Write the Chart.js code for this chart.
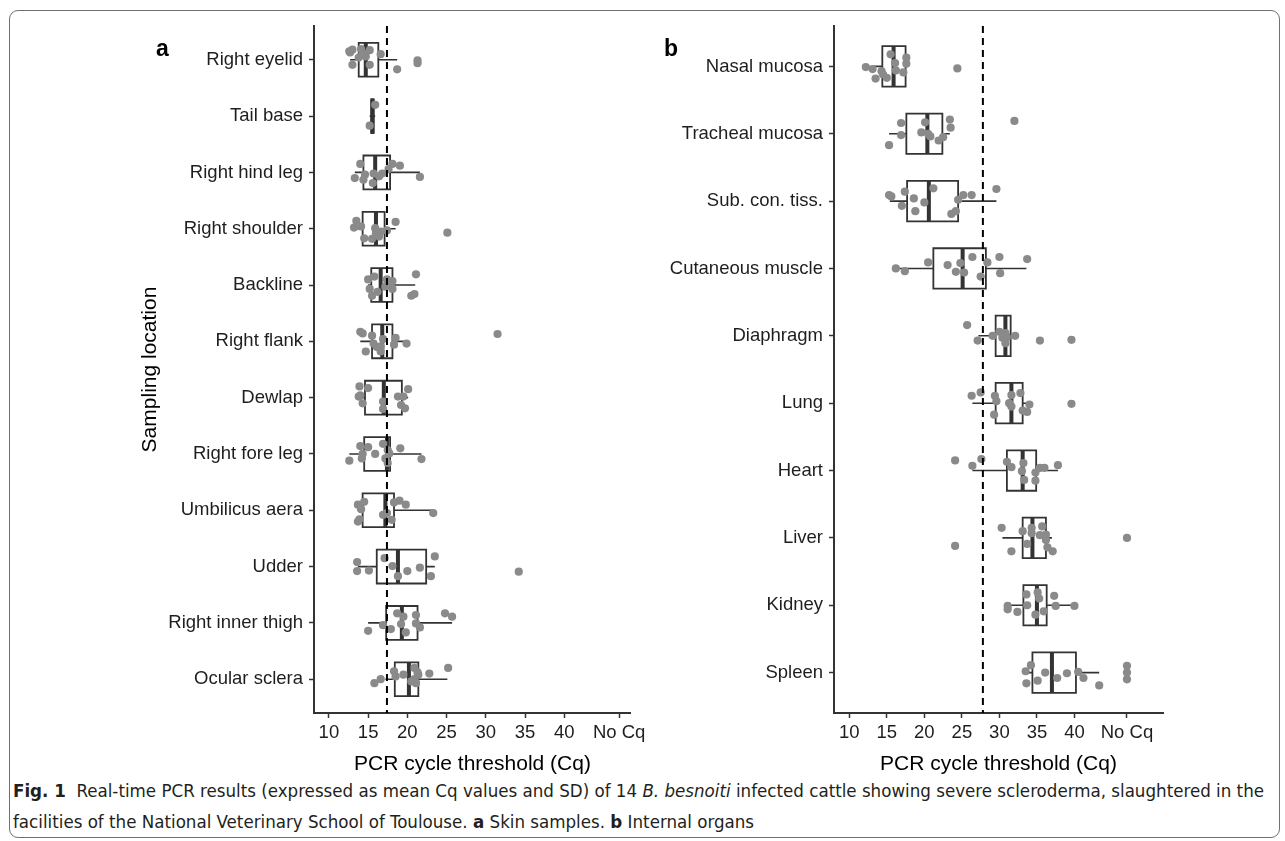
<!DOCTYPE html>
<html>
<head>
<meta charset="utf-8">
<script src="https://cdn.jsdelivr.net/npm/chart.js@4.4.1/dist/chart.umd.min.js"></script>
<style>
  body { margin: 0; background: #fff; width: 1285px; height: 841px; overflow: hidden; position: relative; font-family: "Liberation Sans", Arial, sans-serif; }
  #frame { position: absolute; left: 9px; top: 10px; width: 1271px; height: 828px; border: 1.5px solid #707070; border-radius: 9px; box-sizing: border-box; }
  canvas { position: absolute; top: 0; }
  .tag { position: absolute; font-weight: bold; font-size: 23px; color: #000; line-height: 23px; }
  .cap { position: absolute; left: 13px; font-family: "Liberation Sans Narrow", "DejaVu Sans Condensed", "Open Sans", sans-serif; font-size: 17px; line-height: 20px; color: #231f20; white-space: nowrap; transform-origin: left center; }
</style>
</head>
<body>
<div id="frame"></div>
<canvas id="skinChart" width="650" height="780" style="left:0px"></canvas>
<canvas id="organChart" width="635" height="780" style="left:650px"></canvas>
<div class="tag" style="left:156px; top:37px">a</div>
<div class="tag" style="left:664px; top:37px">b</div>
<div class="cap" id="cap1" style="top:781px"><b>Fig. 1</b>&nbsp; Real-time PCR results (expressed as mean Cq values and SD) of 14 <i>B. besnoiti</i> infected cattle showing severe scleroderma, slaughtered in the</div>
<div class="cap" id="cap2" style="top:812px">facilities of the National Veterinary School of Toulouse. <b>a</b> Skin samples. <b>b</b> Internal organs</div>
<script>
const NO_CQ = 47; // where the "No Cq" samples are plotted

const xTickValues = [10, 15, 20, 25, 30, 35, 40, NO_CQ];
const xTickLabels = ["10", "15", "20", "25", "30", "35", "40", "No Cq"];

// a: skin samples
const skinSites = ["Right eyelid", "Tail base", "Right hind leg", "Right shoulder", "Backline", "Right flank",
    "Dewlap", "Right fore leg", "Umbilicus aera", "Udder", "Right inner thigh", "Ocular sclera"];
const skinQ1 = [13.8, 15.4, 14.4, 14.3, 15.4, 15.5, 14.6, 14.5, 14.3, 16.1, 17.3, 18.4];
const skinMedian = [14.7, 15.55, 15.9, 16.0, 16.6, 16.8, 17.0, 17.4, 17.2, 18.8, 19.3, 20.2];
const skinQ3 = [16.3, 15.7, 17.8, 17.1, 18.1, 18.1, 19.3, 17.8, 18.3, 22.4, 21.3, 21.4];
const skinLow = [12.7, 15.2, 13.3, 13.1, 15.0, 14.0, 13.8, 12.6, 13.7, 13.7, 15.0, 17.2];
const skinHigh = [18.7, 15.9, 21.6, 18.5, 21.0, 20.0, 20.1, 21.8, 23.3, 23.5, 25.7, 25.1];
const skinCq = [
    [12.6, 13.0, 14.1, 15.2, 16.6, 13.8, 14.7, 13.0, 15.2, 18.7, 21.3, 21.3, 14.3, 12.7],
    [15.9, 15.2],
    [14.0, 18.1, 19.05, 13.3, 14.6, 15.7, 16.8, 14.4, 15.6, 21.6, 16.4, 17.6],
    [13.5, 13.2, 14.1, 18.5, 25.1, 15.9, 16.0, 14.5, 15.5, 16.6, 17.4, 16.4],
    [15.0, 15.8, 21.1, 17.4, 18.1, 15.2, 16.2, 15.5, 17.2, 18.1, 20.5, 20.9, 17.5],
    [14.0, 14.3, 15.5, 16.9, 18.5, 15.7, 16.6, 18.3, 19.9, 14.7, 16.6, 16.1, 31.5],
    [13.9, 15.0, 14.0, 14.3, 16.9, 16.9, 18.8, 19.5, 20.1, 19.2, 19.7, 13.8],
    [12.6, 14.0, 15.0, 14.2, 15.9, 16.9, 17.5, 17.7, 17.2, 17.5, 19.1, 21.8, 14.3],
    [13.7, 14.5, 14.1, 13.9, 13.7, 16.9, 17.4, 18.0, 18.3, 19.0, 19.8, 23.3],
    [13.6, 13.6, 15.1, 17.1, 18.1, 18.8, 20.0, 21.6, 23.0, 23.5, 34.2],
    [15.0, 16.9, 17.9, 18.7, 19.5, 19.2, 19.8, 21.1, 21.1, 21.6, 24.8, 25.7],
    [15.8, 16.6, 18.3, 18.5, 19.5, 20.9, 21.3, 20.9, 21.1, 21.4, 22.8, 25.2, 20.5]
];
// vertical jitter of each dot
const skinJitter = [
    [-0.15, -0.18, -0.19, -0.17, -0.10, -0.04, -0.06, 0.09, 0.09, 0.17, 0.01, 0.06, -0.12, -0.13],
    [-0.20, 0.17],
    [-0.15, -0.15, -0.12, 0.10, 0.04, 0.02, 0.02, 0.13, 0.19, 0.08, 0.07, -0.06],
    [-0.14, -0.02, -0.04, -0.12, 0.07, -0.01, 0.08, 0.17, 0.18, 0.05, 0.03, 0.14],
    [-0.10, -0.15, -0.19, -0.10, -0.07, 0.07, 0.12, 0.19, 0.03, 0.07, 0.19, 0.16, -0.03],
    [-0.17, -0.14, -0.10, -0.04, -0.06, 0.04, 0.09, 0.06, 0.04, 0.18, 0.18, 0.10, -0.13],
    [-0.20, -0.17, -0.04, 0.10, 0.07, 0.20, -0.02, -0.02, -0.15, 0.13, 0.19, -0.02],
    [0.12, -0.14, -0.12, 0.08, 0.00, -0.18, -0.07, -0.01, 0.08, 0.16, -0.10, 0.09, 0.00],
    [-0.10, -0.15, -0.02, 0.16, 0.20, 0.08, 0.05, 0.17, -0.14, -0.17, -0.10, 0.05],
    [-0.08, 0.08, 0.07, -0.15, -0.01, 0.17, 0.08, 0.02, 0.17, -0.18, 0.09],
    [0.14, 0.04, 0.11, -0.17, -0.11, 0.02, 0.17, -0.14, 0.01, 0.08, -0.17, -0.11],
    [0.07, 0.00, -0.14, -0.05, -0.08, -0.20, -0.12, 0.00, 0.07, -0.08, -0.10, -0.20, 0.04]
];
const skinCutoff = 17.4;

// b: internal organs
const organSites = ["Nasal mucosa", "Tracheal mucosa", "Sub. con. tiss.", "Cutaneous muscle", "Diaphragm",
    "Lung", "Heart", "Liver", "Kidney", "Spleen"];
const organQ1 = [14.4, 17.6, 17.7, 21.2, 29.5, 29.5, 31.0, 33.1, 33.2, 34.4];
const organMedian = [15.9, 20.4, 20.6, 25.1, 30.8, 31.6, 33.1, 34.4, 35.0, 37.0];
const organQ3 = [17.5, 22.4, 24.5, 28.2, 31.5, 33.1, 34.9, 36.2, 36.3, 40.2];
const organLow = [13.1, 15.3, 15.4, 16.3, 27.2, 26.4, 26.4, 30.4, 31.1, 33.5];
const organHigh = [17.7, 23.4, 29.6, 33.6, 32.2, 33.9, 37.8, 37.0, 40.0, 43.3];
const organCq = [
    [12.2, 13.1, 14.3, 14.5, 13.5, 15.0, 15.5, 16.1, 16.2, 17.2, 17.6, 17.6, 24.4],
    [15.3, 16.9, 16.9, 20.1, 19.6, 20.8, 21.9, 22.5, 23.4, 23.5, 32.0, 20.5],
    [15.3, 15.6, 17.4, 18.6, 17.0, 18.8, 20.0, 21.2, 24.5, 25.2, 26.3, 23.6, 24.2, 29.6],
    [16.2, 17.4, 20.5, 23.1, 24.8, 24.2, 25.3, 26.4, 28.4, 27.5, 30.0, 30.1, 33.7],
    [25.7, 27.1, 29.1, 30.0, 30.8, 30.8, 32.1, 35.4, 39.6, 30.4, 31.0],
    [26.3, 27.5, 29.4, 29.6, 29.3, 31.6, 31.3, 31.6, 32.8, 34.0, 33.1, 33.7, 39.6],
    [24.1, 26.4, 27.6, 31.0, 31.6, 33.0, 33.2, 33.3, 34.8, 34.8, 35.4, 36.0, 37.8],
    [24.1, 30.3, 31.6, 33.1, 33.7, 34.3, 34.3, 35.4, 35.7, 36.2, 36.2, 36.4, 37.1, NO_CQ],
    [31.1, 31.1, 32.4, 33.6, 33.7, 34.8, 35.1, 35.3, 35.9, 37.3, 37.5, 40.0],
    [33.5, 34.2, 33.6, 35.1, 36.1, 37.7, 39.0, 40.5, 41.2, 43.3, NO_CQ, NO_CQ, NO_CQ]
];
const organJitter = [
    [0.01, 0.04, 0.07, 0.12, 0.18, 0.17, -0.18, -0.05, 0.06, 0.09, -0.13, -0.04, 0.03],
    [0.17, -0.16, 0.02, -0.17, -0.02, 0.04, 0.10, 0.05, -0.21, -0.09, -0.19, 0.00],
    [-0.09, -0.07, -0.14, -0.04, 0.07, 0.15, 0.02, -0.19, -0.02, -0.09, -0.09, 0.19, 0.15, -0.18],
    [0.00, 0.04, -0.09, -0.05, -0.08, 0.05, 0.06, -0.17, -0.09, 0.12, -0.17, 0.07, -0.14],
    [-0.16, 0.07, 0.00, -0.06, -0.04, 0.11, 0.00, 0.07, 0.06, 0.03, 0.02],
    [-0.11, -0.16, -0.11, -0.03, 0.17, -0.12, 0.00, 0.05, -0.15, 0.02, 0.11, 0.13, 0.01],
    [-0.15, -0.07, -0.17, -0.13, -0.05, 0.01, -0.11, 0.14, 0.03, 0.15, -0.04, -0.04, -0.08],
    [0.12, -0.15, 0.20, -0.10, 0.09, -0.15, -0.07, -0.04, -0.17, -0.05, 0.03, 0.14, 0.20, 0.00],
    [0.01, 0.06, 0.10, -0.16, 0.00, 0.14, -0.19, -0.10, 0.09, -0.14, 0.01, 0.01],
    [-0.02, -0.11, 0.16, 0.12, 0.00, 0.08, 0.01, -0.01, 0.08, 0.19, -0.10, 0.00, 0.10]
];
const organCutoff = 27.8;

Chart.defaults.font.family = "'Liberation Sans', Arial, sans-serif";

const axisColor = "#333333";
const boxHalf = 0.3;

function gap() { return {x: null, y: null}; }

function boxPanel(canvasId, sites, q1, med, q3, lo, hi, cq, jit, cutoff, xMin, xMax, yWidth, padRight, yTitle) {
    const yMin = -0.6, yMax = sites.length - 0.4;
    const boxes = [], medians = [], whiskers = [], dots = [];
    sites.forEach((s, i) => {
        boxes.push({x: q1[i], y: i - boxHalf}, {x: q3[i], y: i - boxHalf}, {x: q3[i], y: i + boxHalf},
            {x: q1[i], y: i + boxHalf}, {x: q1[i], y: i - boxHalf}, gap());
        medians.push({x: med[i], y: i - boxHalf}, {x: med[i], y: i + boxHalf}, gap());
        whiskers.push({x: lo[i], y: i}, {x: q1[i], y: i}, gap(), {x: q3[i], y: i}, {x: hi[i], y: i}, gap());
        cq[i].forEach((v, k) => dots.push({x: v, y: i + jit[i][k]}));
    });

    const lineSet = (data, width, order, extra) => Object.assign({
        data: data, showLine: true, spanGaps: false, tension: 0,
        borderColor: axisColor, borderWidth: width, pointRadius: 0, pointHoverRadius: 0,
        borderCapStyle: "butt", borderJoinStyle: "miter", order: order
    }, extra || {});

    return new Chart(document.getElementById(canvasId), {
        type: "scatter",
        data: {
            datasets: [
                lineSet([{x: cutoff, y: yMin}, {x: cutoff, y: yMax}], 2, 0, {borderColor: "#000", borderDash: [7, 5]}),
                {data: dots, backgroundColor: "#8a8a8a", borderWidth: 0, pointRadius: 4.1, pointHoverRadius: 4.1, order: 1},
                lineSet(medians, 4, 2),
                lineSet(whiskers, 1.6, 3),
                lineSet(boxes, 1.8, 4, {borderCapStyle: "square"})
            ]
        },
        options: {
            responsive: false,
            animation: false,
            events: [],
            layout: {padding: {top: 26, right: padRight, bottom: 0, left: 0}},
            plugins: {legend: {display: false}, tooltip: {enabled: false}},
            scales: {
                x: {
                    type: "linear", min: xMin, max: xMax,
                    afterBuildTicks: (s) => { s.ticks = xTickValues.map(v => ({value: v})); },
                    afterFit: (s) => { s.height = 67; },
                    ticks: {
                        callback: (v) => xTickLabels[xTickValues.indexOf(v)],
                        font: {size: 18.5}, color: "#1e1e1e", padding: 4, maxRotation: 0, autoSkip: false
                    },
                    grid: {drawOnChartArea: false, drawTicks: true, tickLength: 5, tickWidth: 1.5, tickColor: axisColor},
                    border: {display: true, color: axisColor, width: 2},
                    title: {display: true, text: "PCR cycle threshold (Cq)", font: {size: 21}, color: "#000", padding: {top: 0, bottom: 3}}
                },
                y: {
                    type: "linear", min: yMin, max: yMax, reverse: true,
                    afterBuildTicks: (s) => { s.ticks = sites.map((_, i) => ({value: i})); },
                    afterFit: (s) => { s.width = yWidth; },
                    ticks: {
                        callback: (v) => sites[v],
                        font: {size: 18.5}, color: "#1e1e1e", padding: 6, autoSkip: false
                    },
                    grid: {drawOnChartArea: false, drawTicks: true, tickLength: 5, tickWidth: 1.5, tickColor: axisColor},
                    border: {display: true, color: axisColor, width: 2},
                    title: {display: !!yTitle, text: yTitle || "", font: {size: 21}, color: "#000", padding: {top: 138, bottom: 0}}
                }
            }
        }
    });
}

boxPanel("skinChart", skinSites, skinQ1, skinMedian, skinQ3, skinLow, skinHigh, skinCq, skinJitter,
    skinCutoff, 8.1, 48.5, 314, 17, "Sampling location");
boxPanel("organChart", organSites, organQ1, organMedian, organQ3, organLow, organHigh, organCq, organJitter,
    organCutoff, 7.96, 51.8, 184, 122, "");

// squeeze the caption to the width of the original text block
const cap1 = document.getElementById("cap1"), cap2 = document.getElementById("cap2");
const k = 1251 / cap1.getBoundingClientRect().width;
cap1.style.transform = "scaleX(" + k + ")";
cap2.style.transform = "scaleX(" + k + ")";
</script>
</body>
</html>
